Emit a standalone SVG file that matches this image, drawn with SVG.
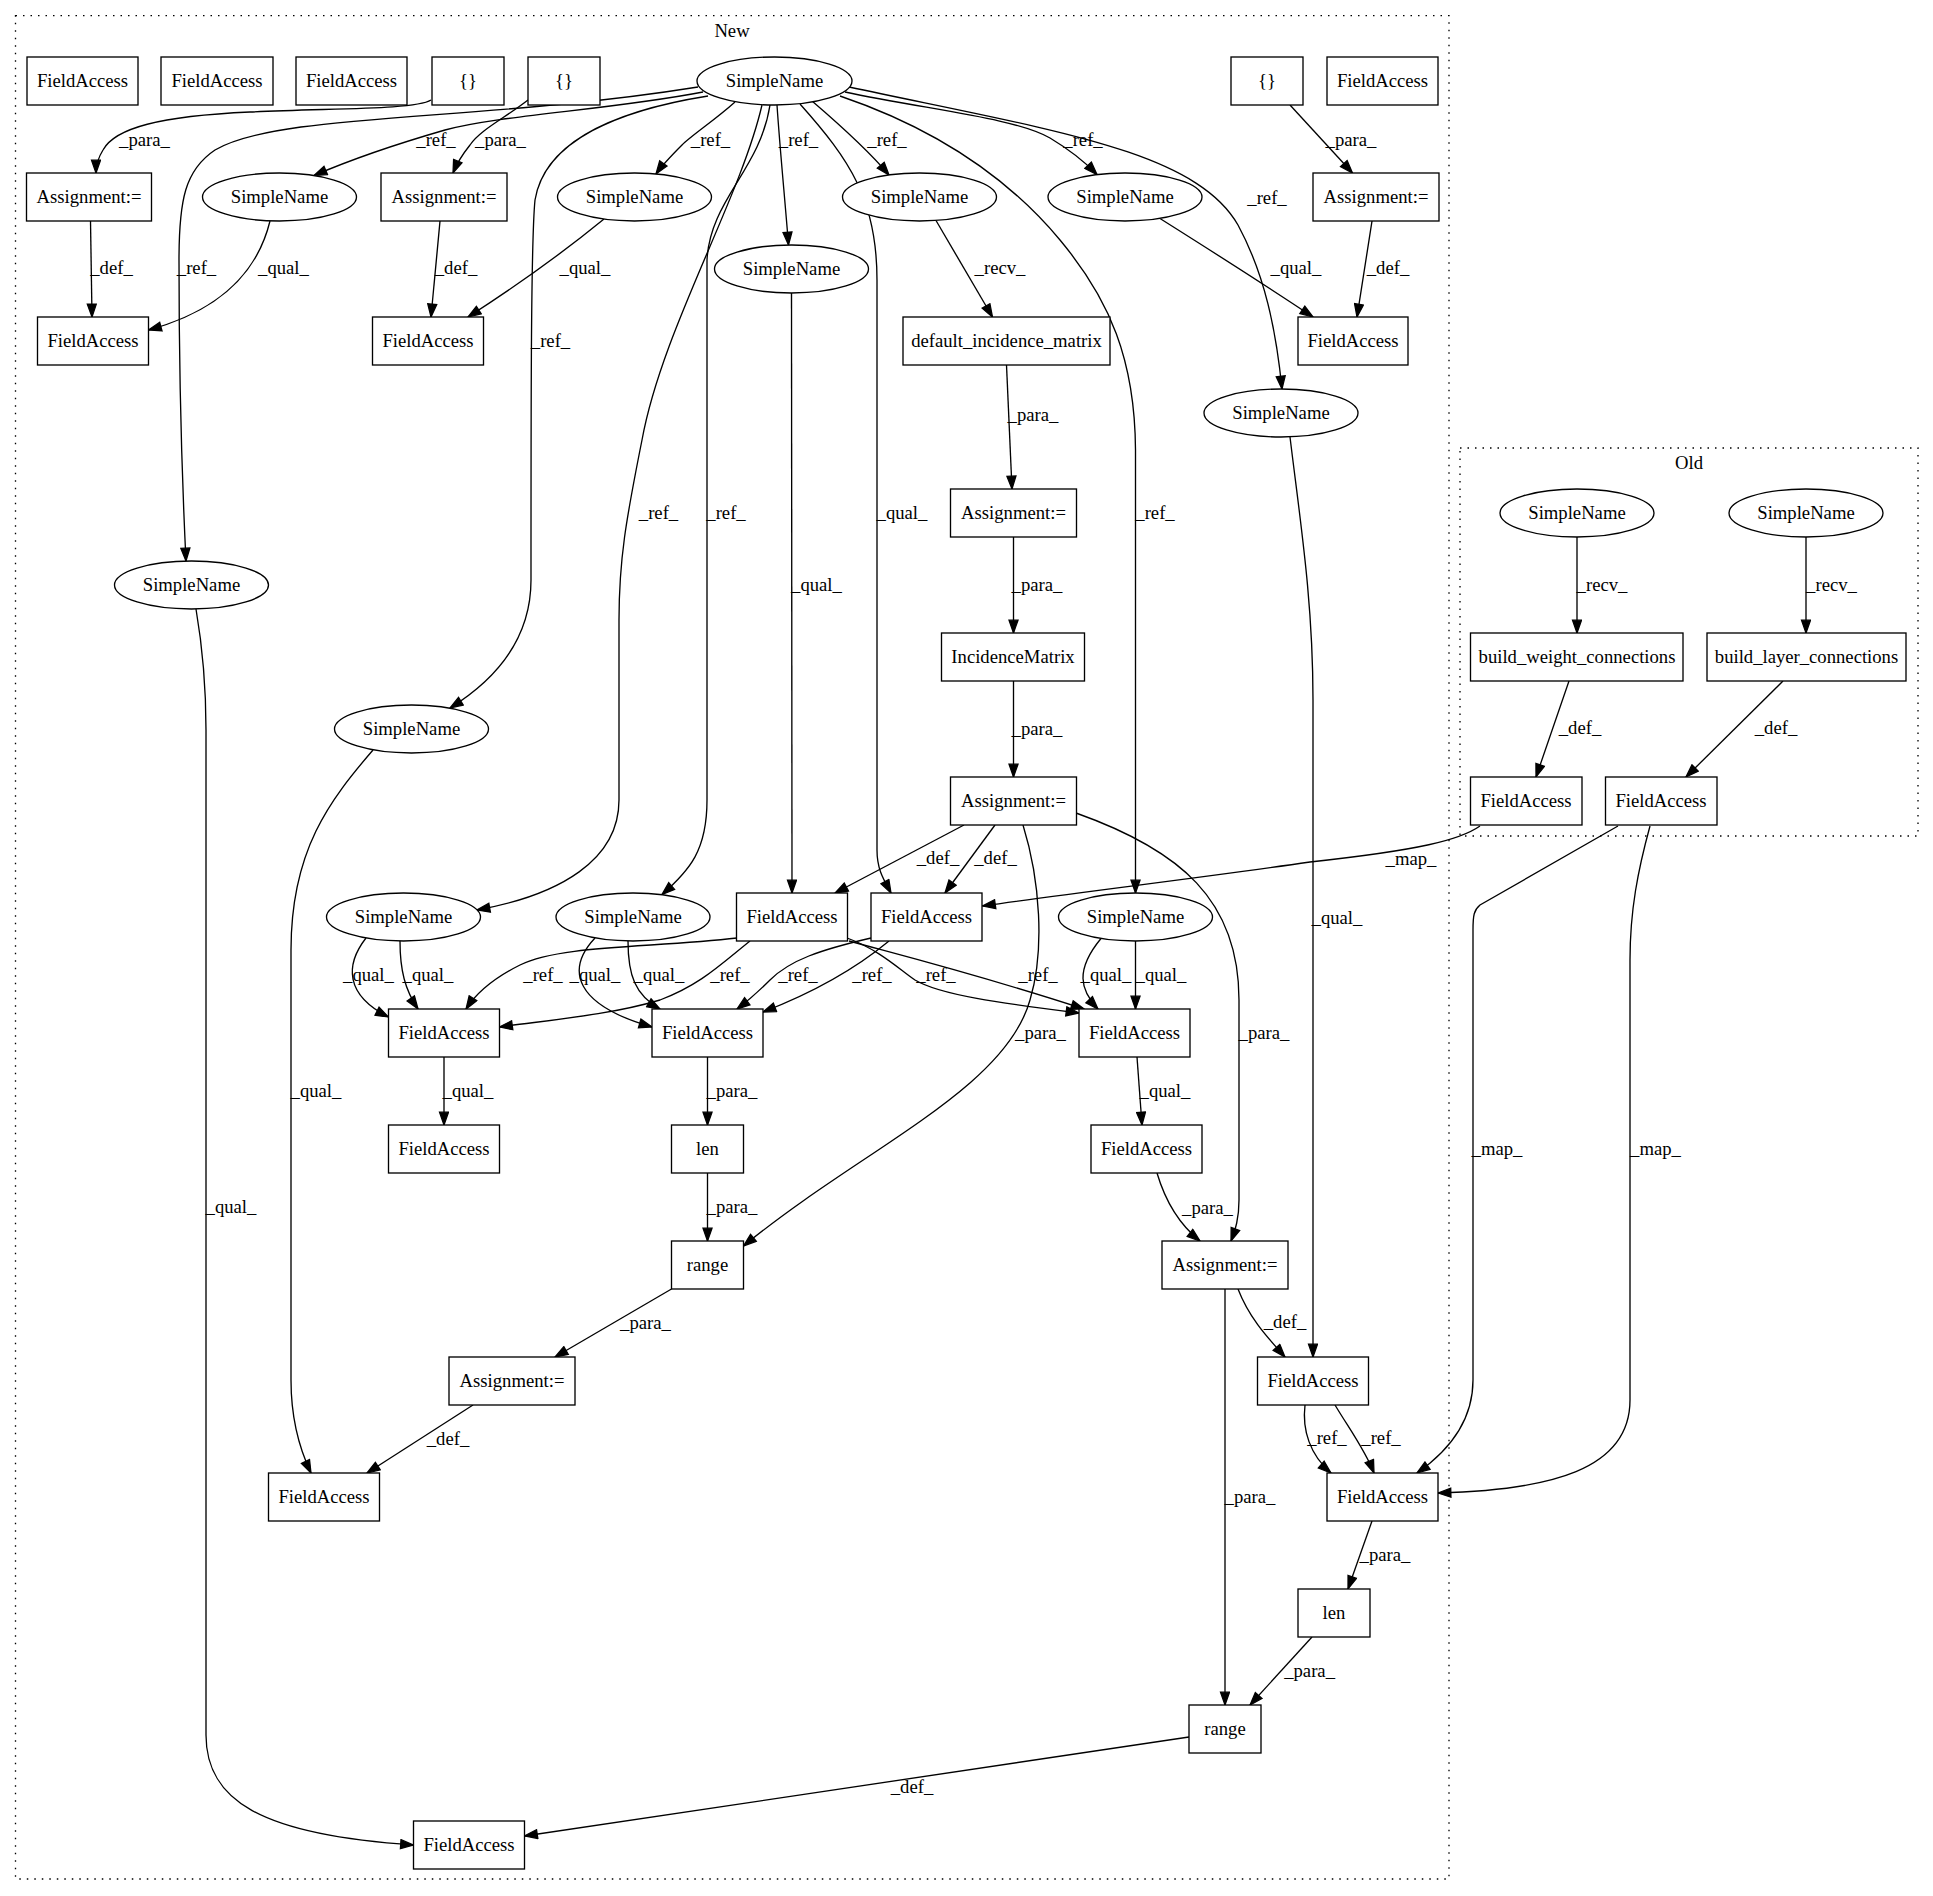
<svg xmlns="http://www.w3.org/2000/svg" width="1933" height="1896" viewBox="0 0 1933 1896">
<style>
text{font-family:"Liberation Serif","Times New Roman",serif;font-size:18.67px;text-anchor:middle;fill:#000}
.n rect,.n ellipse{fill:#fff;stroke:#000;stroke-width:1.33}
.cl{fill:none;stroke:#000;stroke-width:1.33;stroke-dasharray:1.5,6}
#edges path{fill:none;stroke:#000;stroke-width:1.33;marker-end:url(#arr)}
</style>
<defs>
<marker id="arr" markerUnits="userSpaceOnUse" markerWidth="15" markerHeight="11" refX="13.3" refY="4.67" orient="auto" viewBox="-1 -1 15 11.4"><path d="M0,0 L13.3,4.67 L0,9.33 z" fill="#000" stroke="#000" stroke-width="1.33"/></marker>
</defs>
<rect width="1933" height="1896" fill="#fff"/>
<g id="clusters">
<rect class="cl" x="15.5" y="15.7" width="1433.5" height="1863.3"/>
<text x="732" y="37">New</text>
<rect class="cl" x="1460" y="448" width="458" height="388"/>
<text x="1689" y="469">Old</text>
</g>
<g id="edges">
<g id="e1"><path d="M431,100 C415,110 330,108 250,112 C160,116 115,128 103,150 C98,158 96,165 96,173"/><text x="144.5" y="146">_para_</text></g>
<g id="e2"><path d="M528,100 C505,118 480,130 470,145 C462,155 457,163 453,173"/><text x="500.5" y="146">_para_</text></g>
<g id="e3"><path d="M703,92 C610,110 500,115 445,130 C400,143 350,160 314,175.5"/><text x="436" y="146">_ref_</text></g>
<g id="e4"><path d="M735,102 C715,120 692,135 682,145 C671,156 663,164 656,174"/><text x="710.5" y="146">_ref_</text></g>
<g id="e5"><path d="M777,105 C780,150 785,200 788.5,245"/><text x="798.5" y="146">_ref_</text></g>
<g id="e6"><path d="M812,101 C840,125 868,150 889,175"/><text x="887" y="146">_ref_</text></g>
<g id="e7"><path d="M845,92 C930,110 1015,118 1050,138 C1070,150 1085,162 1097,174.5"/><text x="1083" y="146">_ref_</text></g>
<g id="e8"><path d="M849,87 C1050,130 1195,150 1238,225 C1265,275 1276,330 1282,389"/><text x="1267" y="204">_ref_</text></g>
<g id="e9"><path d="M698,87 C480,122 280,112 215,150 C185,170 179,200 179,260 C179,400 183,500 186,561"/><text x="196.5" y="274">_ref_</text></g>
<g id="e10"><path d="M708,96 C620,110 545,140 535,200 C531,240 531,400 531,580 C531,640 495,680 450,708"/><text x="550.5" y="347">_ref_</text></g>
<g id="e11"><path d="M762,105 C740,200 662,330 642,440 C626,520 619,560 619,620 L619,800 C619,860 560,895 477,910"/><text x="658.5" y="519">_ref_</text></g>
<g id="e12"><path d="M770,105 C760,170 710,200 707,260 L707,800 C707,850 690,870 662,894.5"/><text x="726" y="519">_ref_</text></g>
<g id="e13"><path d="M791.5,293 L792,893"/><text x="816.5" y="591">_qual_</text></g>
<g id="e14"><path d="M800,104 C850,160 877,200 877,280 L877,850 C877,870 884,880 891,893"/><text x="902" y="519">_qual_</text></g>
<g id="e15"><path d="M840,96 C940,130 1010,180 1060,240 C1110,300 1135,360 1135.5,450 L1135.5,893"/><text x="1155" y="519">_ref_</text></g>
<g id="e16"><path d="M270,221 C258,270 222,310 148.5,330"/><text x="283.5" y="274">_qual_</text></g>
<g id="e17"><path d="M90.5,221 L92,317"/><text x="111.5" y="274">_def_</text></g>
<g id="e18"><path d="M440,221 L431,317"/><text x="456" y="274">_def_</text></g>
<g id="e19"><path d="M604,219 C560,255 510,290 468,317"/><text x="585" y="274">_qual_</text></g>
<g id="e20"><path d="M1160,218.5 C1210,250 1265,285 1313,317"/><text x="1296" y="274">_qual_</text></g>
<g id="e21"><path d="M1372,221 L1357,317"/><text x="1388" y="274">_def_</text></g>
<g id="e22"><path d="M1290,105 L1352.5,173"/><text x="1351" y="146">_para_</text></g>
<g id="e23"><path d="M936,220.5 L992.5,317"/><text x="1000" y="274">_recv_</text></g>
<g id="e24"><path d="M1006.5,365 L1012,489"/><text x="1033" y="421">_para_</text></g>
<g id="e25"><path d="M1013.5,537 L1013.5,633"/><text x="1037" y="591">_para_</text></g>
<g id="e26"><path d="M1013.5,681 L1013.5,777"/><text x="1037" y="735">_para_</text></g>
<g id="e27"><path d="M1290,437 C1300,520 1313,600 1313,700 L1313,1357"/><text x="1337" y="924">_qual_</text></g>
<g id="e28"><path d="M964,825 L835,893"/><text x="938" y="864">_def_</text></g>
<g id="e29"><path d="M995,825 L945,893"/><text x="995.5" y="864">_def_</text></g>
<g id="e30"><path d="M1023,825 C1040,880 1045,950 1030,1000 C1005,1090 860,1150 743.5,1246"/><text x="1040.5" y="1039">_para_</text></g>
<g id="e31"><path d="M1076,813 C1180,850 1239,900 1239,1000 L1239,1200 C1239,1220 1235,1230 1231,1241"/><text x="1264" y="1039">_para_</text></g>
<g id="e32a"><path d="M366,938 C345,965 345,995 388.5,1017"/><text x="368.5" y="981">_qual_</text></g>
<g id="e32b"><path d="M400,941 C400,970 405,990 418,1009"/><text x="428" y="981">_qual_</text></g>
<g id="e33a"><path d="M595,938 C565,970 575,1005 652,1027"/><text x="595" y="981">_qual_</text></g>
<g id="e33b"><path d="M628,941 C628,975 635,995 660,1009"/><text x="659" y="981">_qual_</text></g>
<g id="e34a"><path d="M1101,938.5 C1075,970 1080,990 1098,1009"/><text x="1106" y="981">_qual_</text></g>
<g id="e34b"><path d="M1135.5,941 L1135.5,1009"/><text x="1161" y="981">_qual_</text></g>
<g id="e35a"><path d="M737,938 C650,948 560,945 520,965 C490,980 475,995 466,1009"/><text x="543" y="981">_ref_</text></g>
<g id="e35b"><path d="M750,941 C720,965 700,985 660,1000 C610,1015 550,1020 499.5,1027"/><text x="730" y="981">_ref_</text></g>
<g id="e36a"><path d="M871,938 C820,950 790,960 770,980 C755,995 745,1003 737,1009"/><text x="798" y="981">_ref_</text></g>
<g id="e36b"><path d="M889,941 C860,965 820,990 763,1012"/><text x="872" y="981">_ref_</text></g>
<g id="e37a"><path d="M847,938 C880,950 900,970 915,980 C940,995 1000,1003 1079,1013"/><text x="936" y="981">_ref_</text></g>
<g id="e37b"><path d="M849,941 C900,955 980,975 1084,1009"/><text x="1038" y="981">_ref_</text></g>
<g id="e38"><path d="M444,1057 L444,1125"/><text x="468" y="1097">_qual_</text></g>
<g id="e39"><path d="M707.5,1057 L707.5,1125"/><text x="732" y="1097">_para_</text></g>
<g id="e40"><path d="M707.5,1173 L707.5,1241"/><text x="732" y="1213">_para_</text></g>
<g id="e41"><path d="M671.5,1289 L555,1357"/><text x="645.5" y="1329">_para_</text></g>
<g id="e42"><path d="M473,1405 L367,1473"/><text x="448" y="1445">_def_</text></g>
<g id="e43"><path d="M373,750 C330,800 291,850 291,950 L291,1380 C291,1420 300,1450 311,1473"/><text x="316" y="1097">_qual_</text></g>
<g id="e44"><path d="M196,609 C203,650 206,690 206,730 L206,1735 C206,1800 260,1835 413.5,1845"/><text x="231" y="1213">_qual_</text></g>
<g id="e45"><path d="M1189,1737 L524.5,1836"/><text x="912" y="1793">_def_</text></g>
<g id="e46"><path d="M1238,1289 C1250,1320 1270,1340 1285,1357"/><text x="1285" y="1328">_def_</text></g>
<g id="e47"><path d="M1225,1289 L1225,1705"/><text x="1250" y="1503">_para_</text></g>
<g id="e48"><path d="M1137,1057 L1142,1125"/><text x="1165" y="1097">_qual_</text></g>
<g id="e49"><path d="M1157,1173 C1165,1200 1180,1225 1200,1241"/><text x="1207.5" y="1214">_para_</text></g>
<g id="e50a"><path d="M1305,1405 C1302,1430 1310,1455 1331,1473"/><text x="1327" y="1444">_ref_</text></g>
<g id="e50b"><path d="M1335,1405 C1350,1430 1365,1450 1374,1473"/><text x="1381" y="1444">_ref_</text></g>
<g id="e51a"><path d="M1618,826 L1480,905 C1474,910 1473,915 1473,930 L1473,1380 C1473,1420 1450,1450 1417,1473"/><text x="1497" y="1155">_map_</text></g>
<g id="e51b"><path d="M1650,826 C1638,870 1630,910 1630,960 L1630,1400 C1630,1470 1550,1490 1438,1493"/><text x="1655.5" y="1155">_map_</text></g>
<g id="e52"><path d="M1480,826 C1460,840 1420,850 1310,862 C1200,878 1080,892 982.5,906"/><text x="1411" y="865">_map_</text></g>
<g id="e53"><path d="M1372,1521 L1348,1589"/><text x="1385" y="1561">_para_</text></g>
<g id="e54"><path d="M1312,1637 L1250,1705"/><text x="1309.6" y="1677">_para_</text></g>
<g id="e55"><path d="M1577,537 L1577,633"/><text x="1602" y="591">_recv_</text></g>
<g id="e56"><path d="M1806,537 L1806,633"/><text x="1831.5" y="591">_recv_</text></g>
<g id="e57"><path d="M1569,681 L1536,777"/><text x="1580" y="734">_def_</text></g>
<g id="e58"><path d="M1783,681 L1686,777"/><text x="1776" y="734">_def_</text></g>
</g>
<g id="n_fa1" class="n"><rect x="27" y="57" width="111" height="48"/><text x="82.5" y="87">FieldAccess</text></g>
<g id="n_fa2" class="n"><rect x="161" y="57" width="112" height="48"/><text x="217" y="87">FieldAccess</text></g>
<g id="n_fa3" class="n"><rect x="296" y="57" width="111" height="48"/><text x="351.5" y="87">FieldAccess</text></g>
<g id="n_br1" class="n"><rect x="432" y="57" width="72" height="48"/><text x="468" y="87">{}</text></g>
<g id="n_br2" class="n"><rect x="528" y="57" width="72" height="48"/><text x="564" y="87">{}</text></g>
<g id="n_s0" class="n"><ellipse cx="774.5" cy="81" rx="77.5" ry="24"/><text x="774.5" y="87">SimpleName</text></g>
<g id="n_br3" class="n"><rect x="1231" y="57" width="72" height="48"/><text x="1267" y="87">{}</text></g>
<g id="n_fa4" class="n"><rect x="1327" y="57" width="111" height="48"/><text x="1382.5" y="87">FieldAccess</text></g>
<g id="n_a1" class="n"><rect x="26.5" y="173" width="125" height="48"/><text x="89" y="203">Assignment:=</text></g>
<g id="n_sa" class="n"><ellipse cx="279.5" cy="197" rx="77" ry="24"/><text x="279.5" y="203">SimpleName</text></g>
<g id="n_a2" class="n"><rect x="381" y="173" width="126" height="48"/><text x="444" y="203">Assignment:=</text></g>
<g id="n_sb" class="n"><ellipse cx="634.5" cy="197" rx="77" ry="24"/><text x="634.5" y="203">SimpleName</text></g>
<g id="n_sd" class="n"><ellipse cx="919.5" cy="197" rx="77" ry="24"/><text x="919.5" y="203">SimpleName</text></g>
<g id="n_se" class="n"><ellipse cx="1125" cy="197" rx="77" ry="24"/><text x="1125" y="203">SimpleName</text></g>
<g id="n_a3" class="n"><rect x="1313" y="173" width="126" height="48"/><text x="1376" y="203">Assignment:=</text></g>
<g id="n_sc" class="n"><ellipse cx="791.5" cy="269" rx="77" ry="24"/><text x="791.5" y="275">SimpleName</text></g>
<g id="n_f1" class="n"><rect x="37.5" y="317" width="111" height="48"/><text x="93" y="347">FieldAccess</text></g>
<g id="n_f2" class="n"><rect x="372.5" y="317" width="111" height="48"/><text x="428" y="347">FieldAccess</text></g>
<g id="n_dim" class="n"><rect x="903" y="317" width="207" height="48"/><text x="1006.5" y="347">default_incidence_matrix</text></g>
<g id="n_f3" class="n"><rect x="1298" y="317" width="110" height="48"/><text x="1353" y="347">FieldAccess</text></g>
<g id="n_sf" class="n"><ellipse cx="1281" cy="413" rx="77" ry="24"/><text x="1281" y="419">SimpleName</text></g>
<g id="n_a4" class="n"><rect x="950.5" y="489" width="126" height="48"/><text x="1013.5" y="519">Assignment:=</text></g>
<g id="n_sg" class="n"><ellipse cx="191.5" cy="585" rx="77" ry="24"/><text x="191.5" y="591">SimpleName</text></g>
<g id="n_im" class="n"><rect x="941.5" y="633" width="143" height="48"/><text x="1013" y="663">IncidenceMatrix</text></g>
<g id="n_sh" class="n"><ellipse cx="411.5" cy="729" rx="77" ry="24"/><text x="411.5" y="735">SimpleName</text></g>
<g id="n_a5" class="n"><rect x="950.5" y="777" width="126" height="48"/><text x="1013.5" y="807">Assignment:=</text></g>
<g id="n_si" class="n"><ellipse cx="403.5" cy="917" rx="77" ry="24"/><text x="403.5" y="923">SimpleName</text></g>
<g id="n_sj" class="n"><ellipse cx="633" cy="917" rx="77" ry="24"/><text x="633" y="923">SimpleName</text></g>
<g id="n_fm" class="n"><rect x="736.5" y="893" width="111" height="48"/><text x="792" y="923">FieldAccess</text></g>
<g id="n_fn" class="n"><rect x="871" y="893" width="111" height="48"/><text x="926.5" y="923">FieldAccess</text></g>
<g id="n_sk" class="n"><ellipse cx="1135.5" cy="917" rx="77" ry="24"/><text x="1135.5" y="923">SimpleName</text></g>
<g id="n_fp" class="n"><rect x="388.5" y="1009" width="111" height="48"/><text x="444" y="1039">FieldAccess</text></g>
<g id="n_fq" class="n"><rect x="652" y="1009" width="111" height="48"/><text x="707.5" y="1039">FieldAccess</text></g>
<g id="n_fr" class="n"><rect x="1079" y="1009" width="111" height="48"/><text x="1134.5" y="1039">FieldAccess</text></g>
<g id="n_fp2" class="n"><rect x="388.5" y="1125" width="111" height="48"/><text x="444" y="1155">FieldAccess</text></g>
<g id="n_len1" class="n"><rect x="671.5" y="1125" width="72" height="48"/><text x="707.5" y="1155">len</text></g>
<g id="n_fr2" class="n"><rect x="1091" y="1125" width="111" height="48"/><text x="1146.5" y="1155">FieldAccess</text></g>
<g id="n_r1" class="n"><rect x="671.5" y="1241" width="72" height="48"/><text x="707.5" y="1271">range</text></g>
<g id="n_a6" class="n"><rect x="1162" y="1241" width="126" height="48"/><text x="1225" y="1271">Assignment:=</text></g>
<g id="n_a7" class="n"><rect x="449" y="1357" width="126" height="48"/><text x="512" y="1387">Assignment:=</text></g>
<g id="n_fs" class="n"><rect x="1257.5" y="1357" width="111" height="48"/><text x="1313" y="1387">FieldAccess</text></g>
<g id="n_fz" class="n"><rect x="268.5" y="1473" width="111" height="48"/><text x="324" y="1503">FieldAccess</text></g>
<g id="n_ft" class="n"><rect x="1327" y="1473" width="111" height="48"/><text x="1382.5" y="1503">FieldAccess</text></g>
<g id="n_len2" class="n"><rect x="1298" y="1589" width="72" height="48"/><text x="1334" y="1619">len</text></g>
<g id="n_r2" class="n"><rect x="1189" y="1705" width="72" height="48"/><text x="1225" y="1735">range</text></g>
<g id="n_fb" class="n"><rect x="413.5" y="1821" width="111" height="48"/><text x="469" y="1851">FieldAccess</text></g>
<g id="n_o1" class="n"><ellipse cx="1577" cy="513" rx="77" ry="24"/><text x="1577" y="519">SimpleName</text></g>
<g id="n_o2" class="n"><ellipse cx="1806" cy="513" rx="77" ry="24"/><text x="1806" y="519">SimpleName</text></g>
<g id="n_bw" class="n"><rect x="1470.5" y="633" width="212.5" height="48"/><text x="1577" y="663">build_weight_connections</text></g>
<g id="n_bl" class="n"><rect x="1707" y="633" width="199" height="48"/><text x="1806.5" y="663">build_layer_connections</text></g>
<g id="n_fol" class="n"><rect x="1470.5" y="777" width="111.5" height="48"/><text x="1526" y="807">FieldAccess</text></g>
<g id="n_for" class="n"><rect x="1605.5" y="777" width="111.5" height="48"/><text x="1661" y="807">FieldAccess</text></g>
</svg>
